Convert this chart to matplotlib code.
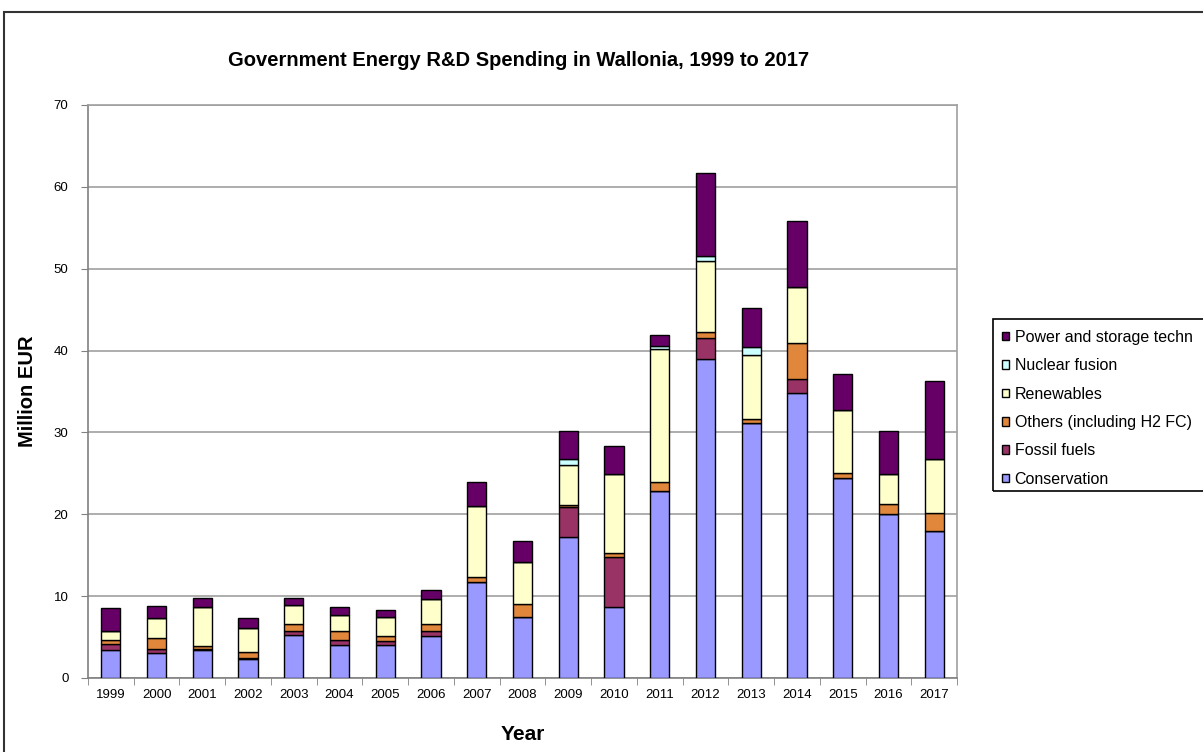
import numpy as np
import matplotlib.pyplot as plt
from matplotlib.patches import Rectangle

plt.rcParams['font.family'] = ['Liberation Sans', 'DejaVu Sans']

# Data (million EUR)
years = [str(y) for y in range(1999, 2018)]
conservation = [3.4, 3.1, 3.4, 2.3, 5.3, 4.05, 4.0, 5.1, 11.7, 7.4, 17.2, 8.7, 22.8, 39.0, 31.1, 34.8, 24.4, 20.0, 17.9]
fossil = [0.7, 0.5, 0.2, 0.2, 0.5, 0.55, 0.5, 0.6, 0.0, 0.0, 3.7, 6.1, 0.0, 2.5, 0.0, 1.7, 0.0, 0.0, 0.0]
others = [0.6, 1.3, 0.3, 0.7, 0.8, 1.2, 0.6, 0.9, 0.6, 1.7, 0.2, 0.5, 1.1, 0.8, 0.55, 4.45, 0.7, 1.3, 2.2]
renewables = [1.05, 2.4, 4.8, 2.95, 2.3, 1.9, 2.3, 3.1, 8.7, 5.1, 4.9, 9.6, 16.3, 8.6, 7.85, 6.85, 7.7, 3.6, 6.6]
nuclear = [0, 0, 0, 0, 0, 0, 0, 0, 0, 0, 0.8, 0, 0.4, 0.7, 0.9, 0, 0, 0, 0]
power = [2.85, 1.5, 1.1, 1.15, 0.9, 1.0, 0.9, 1.0, 2.9, 2.5, 3.4, 3.4, 1.35, 10.05, 4.8, 8.0, 4.35, 5.3, 9.6]

series = [
    ('Conservation', conservation, '#9999ff'),
    ('Fossil fuels', fossil, '#993366'),
    ('Others (including H2 FC)', others, '#e0873c'),
    ('Renewables', renewables, '#ffffcc'),
    ('Nuclear fusion', nuclear, '#ccffff'),
    ('Power and storage techn', power, '#660066'),
]

fig = plt.figure(figsize=(12.03, 7.52), dpi=100)
ax = fig.add_axes([88/1203, 1-678/752, (957-88)/1203, (678-105)/752])

x = np.arange(len(years))
bottom = np.zeros(len(years))
handles = []
for name, vals, col in series:
    vals = np.array(vals, dtype=float)
    b = ax.bar(x, vals, 0.42, bottom=bottom, color=col, edgecolor='black',
               linewidth=1.0, label=name, zorder=3)
    handles.append(b)
    bottom += vals

ax.set_xlim(-0.5, len(years) - 0.5)
ax.set_ylim(0, 70)
ax.set_yticks(range(0, 71, 10))
ax.set_xticks(x)
ax.set_xticklabels(years, fontsize=9.5)
ax.set_xticks(np.arange(-0.5, len(years), 1), minor=True)
ax.tick_params(axis='x', which='major', length=0, pad=8)
ax.tick_params(axis='x', which='minor', length=5, color='#808080', direction='out')
ax.tick_params(axis='y', length=5, color='#808080', labelsize=9.5, pad=9)
ax.grid(axis='y', color='#a0a0a0', linewidth=1.2, zorder=0)
for s in ax.spines.values():
    s.set_color('#a0a0a0')
    s.set_linewidth(1.2)
ax.spines['left'].set_color('#808080')
ax.spines['bottom'].set_color('#808080')

ax.set_xlabel('Year', fontsize=15, fontweight='bold', labelpad=17)
ax.set_ylabel('Million EUR', fontsize=14.5, fontweight='bold', labelpad=12)
fig.text(519/1203, 1-60/752, 'Government Energy R&D Spending in Wallonia, 1999 to 2017',
         ha='center', va='center', fontsize=14.5, fontweight='bold')

leg = fig.legend(handles[::-1], [s[0] for s in series][::-1], loc='upper left',
                 bbox_to_anchor=(993/1203, 1-321/752), frameon=False,
                 fontsize=11.5, handlelength=0.45, handleheight=0.45,
                 handletextpad=0.35, labelspacing=0.84, borderpad=0.55, borderaxespad=0)

# legend frame, cut off at the right edge like the original
fig.patches.append(Rectangle((993/1203, 1-491/752), 0.3, (491-319)/752,
                             transform=fig.transFigure, fill=False,
                             edgecolor='black', linewidth=1.2))

# outer chart border (cropped at right and bottom)
fig.patches.append(Rectangle((4/1203, -0.1), 1.2, 1-12/752 + 0.1,
                             transform=fig.transFigure, fill=False,
                             edgecolor='#333333', linewidth=1.5))

fig.savefig('out.png', dpi=100)
